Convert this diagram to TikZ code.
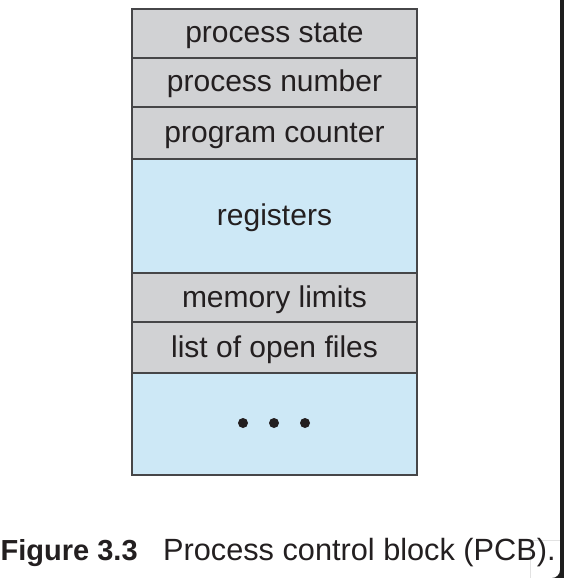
\documentclass[tikz,border=0pt]{standalone}
\usepackage{fontspec}
\setmainfont{Liberation Sans}
\definecolor{rowgray}{RGB}{209,210,212}
\definecolor{rowblue}{RGB}{205,232,246}
\definecolor{edge}{RGB}{70,70,72}
\definecolor{ink}{RGB}{35,31,32}
\definecolor{frame}{RGB}{30,30,30}
\tikzset{
  row/.style={draw=edge, line width=1.8pt, minimum width=285pt, inner sep=0pt,
    text=ink, font=\fontsize{30}{36}\selectfont, text height=24pt, text depth=5pt},
  grayrow/.style={row, fill=rowgray},
  bluerow/.style={row, fill=rowblue},
  dotmark/.style={circle, fill=ink, inner sep=0pt, minimum size=10pt},
  captext/.style={text=ink, inner sep=0pt, font=\fontsize{30.7}{36}\selectfont}
}
\begin{document}
\begin{tikzpicture}[x=1pt,y=-1pt]
\useasboundingbox (0,0) rectangle (564,578);
\fill[white] (0,0) rectangle (564,578);
\node[grayrow, minimum height=49pt] (ps) at (274.5,33.5) {process state};
\node[grayrow, minimum height=49pt] (pn) at (274.5,82.5) {process number};
\node[grayrow, minimum height=52pt] (pc) at (274.5,133) {program counter};
\node[bluerow, minimum height=114pt] (reg) at (274.5,216) {registers};
\node[grayrow, minimum height=49pt] (ml) at (274.5,297.5) {memory limits};
\node[grayrow, minimum height=51pt] (lof) at (274.5,347.5) {list of open files};
\node[bluerow, minimum height=102pt] (more) at (274.5,424) {};
\node[dotmark] (d1) at (243,423) {};
\node[dotmark] (d2) at (274,423) {};
\node[dotmark] (d3) at (305,423) {};
\node[captext, anchor=base west, font=\fontsize{29}{36}\selectfont\bfseries] (fig) at (0.5,560) {Figure 3.3};
\node[captext, anchor=base west] (cap) at (163,560) {Process control block (PCB).};
\fill[frame] (560,0) rectangle (564,578);
\begin{scope}
\clip (530,540) rectangle (564,578);
\fill[frame, even odd rule] (530,540) rectangle (564,578) [rounded corners=8pt] (-20,-20) rectangle (560,578);
\end{scope}
\end{tikzpicture}
\end{document}
